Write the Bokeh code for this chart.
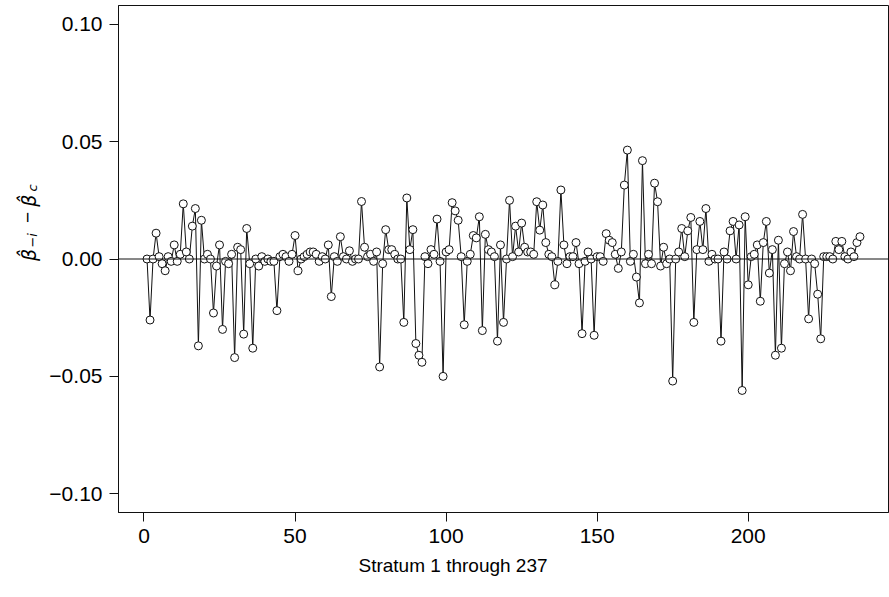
import math
from bokeh.plotting import figure
from bokeh.layouts import row
from bokeh.models import Range1d, FixedTicker, Span, Title
from bokeh.core.properties import value
from bokeh.embed import file_html
from bokeh.resources import INLINE

# ---- data ----
stratum = list(range(1, 238))
beta_diff = [
    0.000, -0.026, 0.000, 0.011, 0.001, -0.002, -0.005, 0.001, -0.001, 0.006,
    -0.001, 0.002, 0.0235, 0.003, 0.000, 0.014, 0.0215, -0.037, 0.0165, 0.000,
    0.002, 0.000, -0.023, -0.003, 0.006, -0.030, -0.001, -0.002, 0.002, -0.042,
    0.005, 0.004, -0.032, 0.013, -0.002, -0.038, 0.000, -0.003, 0.001, -0.001,
    0.000, -0.001, -0.001, -0.022, 0.001, 0.002, 0.001, -0.001, 0.002, 0.010,
    -0.005, 0.000, 0.001, 0.002, 0.003, 0.003, 0.002, -0.001, 0.001, 0.000,
    0.006, -0.016, 0.001, -0.001, 0.0095, 0.001, 0.000, 0.0035, -0.001, 0.000,
    0.000, 0.0245, 0.005, 0.001, 0.002, -0.001, 0.003, -0.046, -0.002, 0.0125,
    0.004, 0.004, 0.002, 0.000, 0.000, -0.027, 0.026, 0.004, 0.0125, -0.036,
    -0.041, -0.044, 0.001, -0.002, 0.004, 0.002, 0.017, -0.001, -0.050, 0.003,
    0.004, 0.024, 0.0205, 0.0165, 0.001, -0.028, -0.001, 0.002, 0.010, 0.009,
    0.018, -0.0305, 0.0105, 0.004, 0.003, 0.001, -0.035, 0.006, -0.027, 0.000,
    0.025, 0.001, 0.014, 0.003, 0.0153, 0.005, 0.003, 0.003, 0.002, 0.0244,
    0.0123, 0.023, 0.007, 0.002, 0.001, -0.011, -0.001, 0.0294, 0.006, -0.002,
    0.001, 0.001, 0.007, -0.002, -0.0318, -0.001, 0.003, 0.000, -0.0325, 0.001,
    0.001, -0.001, 0.0108, 0.008, 0.007, 0.002, -0.004, 0.003, 0.0315, 0.0464,
    -0.001, 0.002, -0.0077, -0.0187, 0.0419, -0.002, 0.002, -0.002, 0.0323, 0.0244,
    -0.003, 0.005, -0.002, 0.000, -0.052, 0.000, 0.003, 0.013, 0.001, 0.012,
    0.0177, -0.027, 0.004, 0.016, 0.004, 0.0215, -0.001, 0.002, 0.000, 0.000,
    -0.035, 0.003, 0.000, 0.012, 0.016, 0.000, 0.0145, -0.056, 0.018, -0.011,
    0.001, 0.002, 0.006, -0.018, 0.007, 0.016, -0.006, 0.004, -0.041, 0.008,
    -0.038, -0.002, 0.003, -0.005, 0.0117, 0.001, 0.000, 0.019, 0.000, -0.0255,
    0.000, -0.002, -0.015, -0.034, 0.001, 0.001, 0.001, 0.000, 0.0075, 0.004,
    0.0075, 0.001, 0.000, 0.003, 0.001, 0.007, 0.0095,
]
x_ticks = [0, 50, 100, 150, 200]
y_ticks = [-0.10, -0.05, 0.00, 0.05, 0.10]
y_tick_labels = ["\u22120.10", "\u22120.05", "0.00", "0.05", "0.10"]
x_label = "Stratum 1 through 237"
y_label_parts = ["\u03b2\u0302", "\u2212i", "\u2212", "\u03b2\u0302", "c"]

FONT = "Liberation Sans"
INK = "#111111"
H = 597
LW = 44  # width of the strip that holds the y-axis label

# ---- main plot ----
p = figure(width=889 - LW, height=H, output_backend="svg", toolbar_location=None,
           x_range=Range1d(-8.44, 246.44), y_range=Range1d(-0.108, 0.108),
           min_border_left=118 - LW, min_border_right=1, min_border_top=5,
           min_border_bottom=85)
p.background_fill_color = "white"
p.border_fill_color = "white"
p.outline_line_color = INK
p.outline_line_width = 1
p.grid.visible = False

for ax in (p.xaxis[0], p.yaxis[0]):
    ax.axis_line_color = INK
    ax.major_tick_line_color = INK
    ax.minor_tick_line_color = None
    ax.major_tick_in = 0
    ax.major_tick_out = 9
    ax.major_label_text_font = FONT
    ax.major_label_text_font_size = "21px"
    ax.major_label_text_color = "black"

p.xaxis.ticker = FixedTicker(ticks=x_ticks)
p.yaxis.ticker = FixedTicker(ticks=y_ticks)
p.yaxis.major_label_overrides = {t: l for t, l in zip(y_ticks, y_tick_labels)}
p.yaxis.major_label_orientation = "horizontal"
p.xaxis.major_label_standoff = 7
p.yaxis.major_label_standoff = 7

# x-axis title, placed a little left of centre as in the reference
p.add_layout(Title(text=x_label, align="left", offset=240, standoff=14,
                   text_font=FONT, text_font_size="19px",
                   text_font_style="normal", text_color="black"), "below")

p.add_layout(Span(location=0, dimension="width", line_color=INK, line_width=1))
p.line(stratum, beta_diff, line_color=INK, line_width=1)
p.scatter(stratum, beta_diff, marker="circle", size=8, fill_color="white",
          line_color=INK, line_width=1)

# ---- left strip with the y-axis label (beta-hat_{-i} - beta-hat_c) ----
lab = figure(width=LW, height=H, output_backend="svg", toolbar_location=None,
             x_range=Range1d(0, LW), y_range=Range1d(0, H),
             x_axis_location=None, y_axis_location=None,
             min_border=0, outline_line_color=None)
lab.grid.visible = False
lab.background_fill_color = "white"
lab.border_fill_color = "white"

def piece(text, cx, cy, size, style="italic", font="DejaVu Sans"):
    lab.text(x=[cx], y=[H - cy], text=[text], angle=math.pi / 2,
             text_font=value(font), text_font_size=value(size),
             text_font_style=style, text_align="left",
             text_baseline="alphabetic", text_color="black")

piece(y_label_parts[0], 28, 301, "19px")
piece(y_label_parts[1], 32, 285, "13px")
piece(y_label_parts[2], 27, 256, "19px", style="normal", font=FONT)
piece(y_label_parts[3], 28, 237, "19px")
piece(y_label_parts[4], 32, 219, "13px")

layout = row(lab, p, spacing=0)
open("out.html", "w").write(file_html(layout, INLINE))
